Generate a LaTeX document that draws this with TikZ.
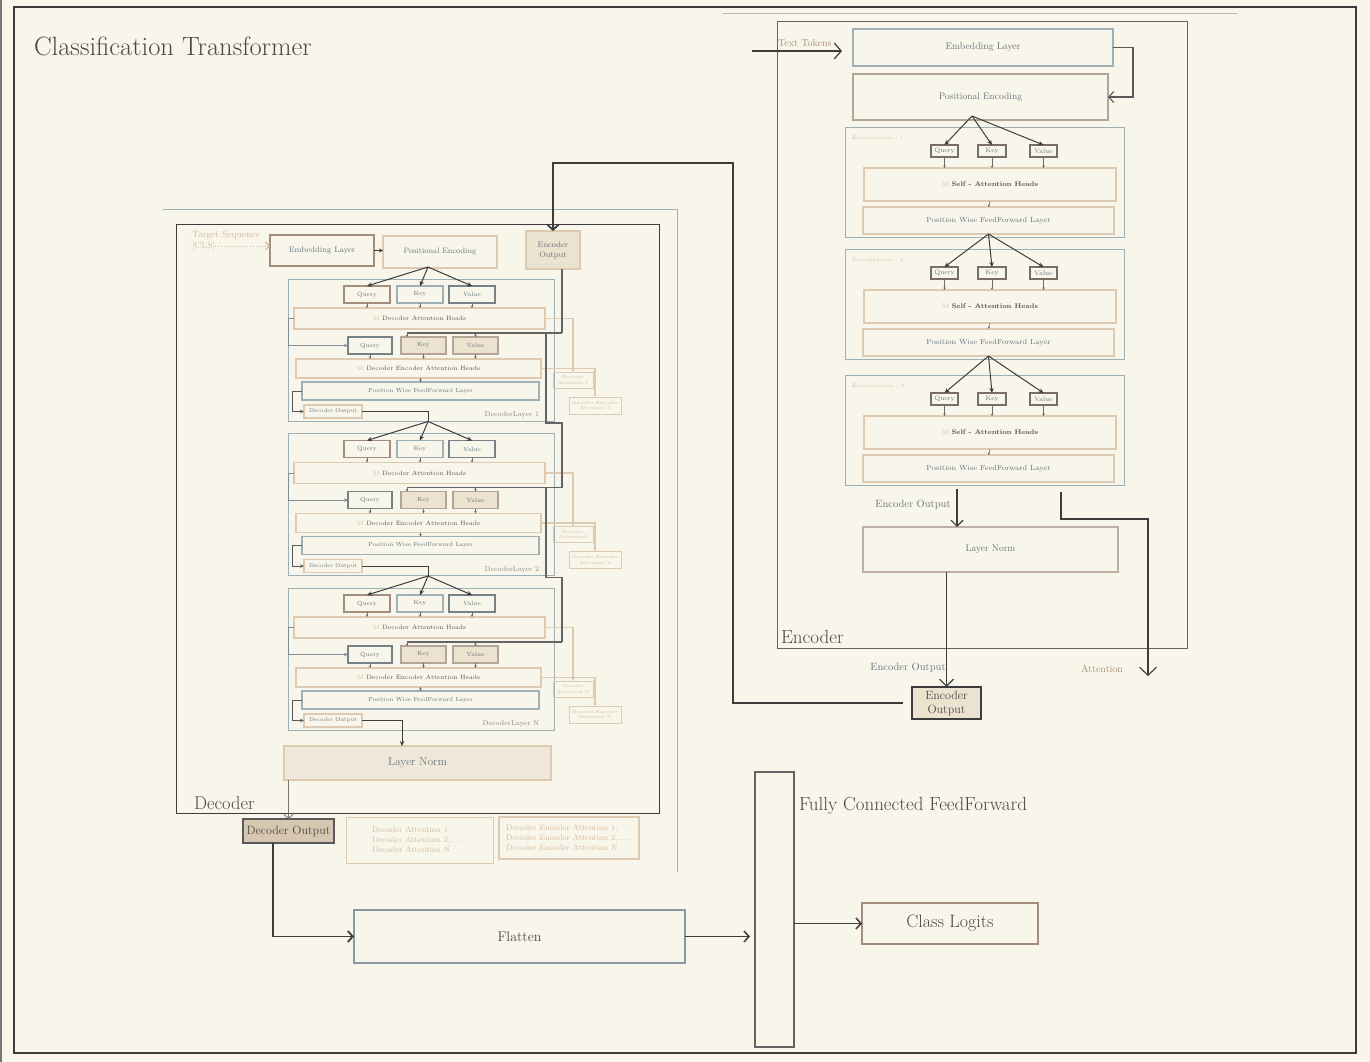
\documentclass[tikz,border=0pt]{standalone}
\usetikzlibrary{arrows.meta}
\definecolor{bg}{HTML}{F8F6EB}
\definecolor{dk}{HTML}{3C3C3C}
\definecolor{bl}{HTML}{9DB0B5}
\definecolor{tn}{HTML}{DDCAB0}
\definecolor{br}{HTML}{A38E7E}
\definecolor{tx}{HTML}{66747A}
\definecolor{tt}{HTML}{D5BB9E}
\definecolor{kf}{HTML}{ECE2D0}
\definecolor{dof}{HTML}{D7C7B1}
\definecolor{ttl}{HTML}{484848}
\definecolor{hdc}{HTML}{555555}
\definecolor{brt}{HTML}{A88C72}
\definecolor{lnf}{HTML}{EFE8DA}
\newcommand\fs[2]{\fontsize{#1}{#2}\selectfont}
\newcommand\mybox[7]{\node[#6, minimum width={#4-#2}, minimum height={#5-#3}] (#1) at ({(#2+#4)/2},{(#3+#5)/2}) {#7};}
\tikzset{
 frm/.style={draw=bl, line width=0.9pt},
 tb/.style={draw=tn, line width=1.3pt},
 bb/.style={draw=bl, line width=1.3pt},
 rb/.style={draw=br, line width=1.1pt},
 vb/.style={draw=bl!60!dk, line width=1.1pt},
 kfill/.style={fill=kf, draw=br!80, line width=1.1pt},
 qkv/.style={text=tx, font=\fs{6}{7}},
 hd/.style={text=hdc, font=\fs{6.2}{7}},
 pw/.style={text=tx, font=\fs{5.8}{7}},
 ann/.style={draw=tn, line width=1pt, text=tt, font=\fs{4.5}{5.5}},
 sa/.style={draw=dk!75, line width=0.6pt, -{Stealth[length=2.5pt,width=2.5pt]}},
 fa/.style={draw=dk, line width=1pt, -{Stealth[length=5pt,width=4.5pt]}},
 ch/.style={draw=dk!80, line width=1.2pt},
 td/.style={draw=tn, line width=1.1pt, -{Stealth[length=3pt,width=3pt]}},
 big/.style={draw=dk, line width=1.8pt},
 barb/.style={-{Straight Barb[length=5pt,width=11pt]}},
 eqk/.style={draw=br!60!dk, line width=1.1pt, text=tx, font=\fs{6.5}{7.5}},
}
\newcommand\declayer[5]{%
\begin{scope}[shift={(0,#2)}]
\mybox{dl#1}{288}{279}{554}{421}{frm}{}
\mybox{dq#1}{344}{286}{390}{303}{rb,qkv}{Query}
\mybox{dk#1}{397}{286}{443}{303}{bb,qkv}{Key}
\mybox{dv#1}{449}{286}{495}{303}{vb,qkv}{Value}
\mybox{dah#1}{294}{308}{545}{329}{tb,hd}{\textcolor{tt}{M} Decoder Attention Heads}
\mybox{dqq#1}{348}{337}{392}{354}{vb,qkv}{Query}
\mybox{dkk#1}{401}{337}{446}{354}{kfill,qkv}{Key}
\mybox{dvv#1}{453}{337}{498}{354}{kfill,qkv}{Value}
\mybox{deah#1}{296}{359}{541}{378}{tb,hd}{\textcolor{tt}{M} Decoder Encoder Attention Heads}
\mybox{dpw#1}{302}{382}{539}{400}{bb,pw}{Position Wise FeedForward Layer}
\mybox{ddo#1}{304}{405}{362}{418}{tb,text=tx,font=\fs{5.5}{6.5}}{Decoder Output}
\node[anchor=east, text=tx!70!tt, font=\fs{7}{8}] (dlab#1) at (539,415) {DecoderLayer #3};
\mybox{da#1}{553}{372}{593}{388}{ann}{Decoder\\#4}
\mybox{dea#1}{569}{397}{621}{414}{ann}{Decoder Encoder\\#5}
\coordinate (df#1) at (428,267);
\coordinate (ekin#1) at (562,333);
\coordinate (ekj#1) at (546,333);
\coordinate (ekl#1) at (407,333);
\coordinate (ekb#1) at (562,423);
\draw[fa] (df#1) -- (dq#1.north);
\draw[fa] (df#1) -- (dk#1.north);
\draw[fa] (df#1) -- (dv#1.north);
\draw[sa] (dq#1.south) -- (dq#1.south |- dah#1.north);
\draw[sa] (dk#1.south) -- (dk#1.south |- dah#1.north);
\draw[sa] (dv#1.south) -- (dv#1.south |- dah#1.north);
\draw[sa] (dqq#1.south) -- (dqq#1.south |- deah#1.north);
\draw[sa] (dkk#1.south) -- (dkk#1.south |- deah#1.north);
\draw[sa] (dvv#1.south) -- (dvv#1.south |- deah#1.north);
\draw[sa] (dpw#1.north |- deah#1.south) -- (dpw#1.north);
\draw[draw=bl!70!dk, line width=0.9pt, -{Stealth[length=4pt,width=3.5pt]}] (dah#1.west) -- ++(-6,0) |- (dqq#1.west);
\draw[draw=dk!85, line width=1pt, -{Stealth[length=4pt,width=3.5pt]}] (dpw#1.west) -- ++(-10,0) |- (ddo#1.west);
\draw[td] (dah#1.east) -| (da#1.north);
\draw[td] (deah#1.east) -| (dea#1.north);
\draw[ch] (ekin#1) -- (ekl#1);
\draw[sa, line width=0.9pt] (ekl#1) -- (ekl#1 |- dkk#1.north);
\draw[sa, line width=0.9pt] (dvv#1.north |- ekin#1) -- (dvv#1.north);
\end{scope}}
\newcommand\enclayer[3]{%
\begin{scope}[shift={(0,#2)}]
\mybox{el#1}{845}{127}{1124}{237}{frm}{}
\node[anchor=west, text=tt, font=\fs{5}{6}] (ellab#1) at (852,138) {EncoderLayer #3};
\mybox{eq#1}{931}{145}{958}{157}{eqk}{Query}
\mybox{ek#1}{978}{145}{1006}{157}{eqk}{Key}
\mybox{ev#1}{1030}{145}{1057}{157}{eqk}{Value}
\mybox{esa#1}{864}{168}{1116}{201}{tb,text=hdc,font=\fs{6.8}{8}}{\textcolor{tt}{M} \textbf{Self - Attention Heads}}
\mybox{epw#1}{863}{207}{1114}{234}{tb,text=tx,font=\fs{7.4}{8.5}}{Position Wise FeedForward Layer}
\draw[sa] (eq#1.south) -- (eq#1.south |- esa#1.north);
\draw[sa] (ek#1.south) -- (ek#1.south |- esa#1.north);
\draw[sa] (ev#1.south) -- (ev#1.south |- esa#1.north);
\draw[sa] (esa#1.south) -- (epw#1.north);
\end{scope}}
\begin{document}
\begin{tikzpicture}[x=1pt,y=-1pt, every node/.style={inner sep=0pt, outer sep=0pt, align=center}]
\fill[bg] (0,0) rectangle (1370,1062);
\useasboundingbox (0,0) rectangle (1370,1062);
\draw[dk!70, line width=1.5pt] (1,0) -- (1,1062);
\draw[dk, line width=1.2pt] (14,7) rectangle (1356,1053);
\node[anchor=west, text=ttl, font=\fs{26.5}{30}] (title) at (34,46) {Classification Transformer};

% ---------------- Decoder ----------------
\draw[bl, line width=0.8pt] (163,209) -- (677,209) -- (677,872);
\mybox{decbox}{176}{224}{659}{813}{draw=dk, line width=1pt}{}
\node[anchor=west, text=ttl, font=\fs{18.5}{21}] (declab) at (194,803) {Decoder};
\node[anchor=west, text=tt, font=\fs{9.2}{10}] (tgt) at (192,235) {Target Sequence};
\node[anchor=west, text=tt, font=\fs{9.2}{10}] (cls) at (192,246) {[CLS]};
\mybox{demb}{270}{235}{374}{266}{rb,text=tx,font=\fs{8.1}{10}}{Embedding Layer}
\mybox{dpe}{383}{236}{497}{268}{tb,text=tx,font=\fs{7.8}{10}}{Positional Encoding}
\mybox{denc}{526}{231}{580}{269}{fill=kf, draw=tn, line width=2.2pt, text=tx, font=\fs{8}{10}}{Encoder\\Output}
\draw[draw=tt, line width=0.9pt, dotted, -{Straight Barb[length=4pt,width=8pt]}] (cls.east) -- (cls.east -| demb.west);
\draw[draw=dk, line width=1pt, -{Stealth[length=4pt,width=4pt]}] (demb.east) -- (demb.east -| dpe.west);

\declayer{1}{0}{1}{Attention 1}{Attention 1}
\declayer{2}{154.5}{2}{Attention2}{Attention 2}
\declayer{3}{309}{N}{Attention N}{Attention N}

\draw[ch] (denc.south -| ekin1) -- (ekin1);
\draw[ch] (ekj1) |- (ekb1) -- (ekin2);
\draw[ch] (ekj2) |- (ekb2) -- (ekin3);
\draw[draw=dk, line width=1pt] (ddo1.east) -| (df2);
\draw[draw=dk, line width=1pt] (ddo2.east) -| (df3);

\mybox{dln}{284}{746}{551}{780}{fill=lnf, draw=tn, line width=2.2pt, text=tx, font=\fs{11.5}{13}}{Layer Norm}
\draw[fa] (ddo3.east) -| ([xshift=-15.5pt]dln.north);
\mybox{ddom}{243}{819}{334}{843}{fill=dof, draw=dk!85, line width=1.6pt, text=ttl, font=\fs{12}{14}}{Decoder Output}
\draw[draw=dk!70, line width=0.9pt, -{Straight Barb[length=4pt,width=9pt]}] (dln.south -| ddom.north) -- (ddom.north);
\mybox{dann1}{346}{817}{493}{863}{draw=tn, line width=1pt, text=tt, font=\fs{8}{10}, align=left}{Decoder Attention 1,\\Decoder Attention 2,.......\\Decoder Attention N}
\mybox{dann2}{499}{817}{639}{859}{draw=tn, line width=1.6pt, text=tt, font=\fs{8}{10}, align=left}{Decoder Encoder Attention 1,\\Decoder Encoder Attention 2,......\\Decoder Encoder Attention N}

% ---------------- Bottom ----------------
\mybox{flat}{354}{910}{685}{963}{draw=bl!80!dk, line width=1.2pt, text=ttl, font=\fs{14}{16}}{Flatten}
\draw[big, barb] ([xshift=-15.5pt]ddom.south) |- (flat.west);
\mybox{fc}{755}{772}{794}{1047}{draw=dk!80, line width=1.3pt}{}
\node[anchor=west, text=ttl, font=\fs{19}{22}] (fclab) at (799,806) {Fully Connected FeedForward};
\draw[draw=dk, line width=1.5pt, barb, shorten >=5pt] (flat.east) -- (flat.east -| fc.west);
\mybox{cl}{862}{903}{1038}{944}{draw=br, line width=1.6pt, text=ttl, font=\fs{18}{20}}{Class Logits}
\draw[draw=dk, line width=1.5pt, barb] (fc.east |- cl.west) -- (cl.west);

% ---------------- Encoder ----------------
\draw[draw=br!70, line width=0.8pt] (723,13) -- (1237,13);
\mybox{ebox}{777}{22}{1187}{648}{draw=dk!80, line width=1pt}{}
\node[anchor=west, text=ttl, font=\fs{19}{22}] (enclab) at (781,637) {Encoder};
\node[anchor=west, text=brt, font=\fs{10}{12}] (ttok) at (778,43) {Text Tokens};
\mybox{eemb}{853}{29}{1113}{66}{bb,text=tx,font=\fs{9.7}{12}}{Embedding Layer}
\mybox{epe}{853}{74}{1108}{120}{draw=br!80, line width=1.1pt, text=tx, font=\fs{9.5}{11}}{Positional Encoding}
\coordinate (ttin) at (752,51);
\draw[draw=dk, line width=1.2pt, -{Straight Barb[length=7pt,width=16pt]}, shorten >=11pt] (ttin) -- (ttin -| eemb.west);
\draw[draw=dk!85, line width=1.1pt, -{Straight Barb[length=5pt,width=11pt]}] (eemb.east) -- ++(20,0) |- (epe.east);

\enclayer{1}{0}{- 1}
\enclayer{2}{122}{- 2}
\enclayer{3}{248}{: N}

\coordinate (efork) at (972,116);
\draw[fa] (efork) -- (eq1.north);
\draw[fa] (efork) -- (ek1.north);
\draw[fa] (efork) -- (ev1.north);
\draw[fa] (epw1.south) -- (eq2.north);
\draw[fa] (epw1.south) -- (ek2.north);
\draw[fa] (epw1.south) -- (ev2.north);
\draw[fa] (epw2.south) -- (eq3.north);
\draw[fa] (epw2.south) -- (ek3.north);
\draw[fa] (epw2.south) -- (ev3.north);

\mybox{eln}{863}{527}{1118}{572}{draw=br!70, line width=1.1pt, text=tx, font=\fs{9.5}{11}}{Layer Norm}
\coordinate (eoa) at (957,489);
\draw[draw=dk, line width=1.1pt, -{Straight Barb[length=6pt,width=12pt]}] (eoa) -- (eoa |- eln.north);
\node[text=tx, font=\fs{10.5}{12}] (eolab1) at (913,505) {Encoder Output};
\coordinate (atst) at (1061,492);
\coordinate (atend) at (1148,676);
\draw[draw=dk, line width=1.1pt, -{Straight Barb[length=8pt,width=17pt]}] (atst) |- (atend |- 0,519) -- (atend);
\node[text=brt, font=\fs{10}{12}] (attlab) at (1102,669) {Attention};
\mybox{eout}{912}{687}{981}{719}{fill=kf, draw=dk, line width=2pt, text=ttl, font=\fs{12}{14}}{Encoder\\Output}
\draw[draw=dk, line width=1.1pt, -{Straight Barb[length=7pt,width=14pt]}] (eln.south -| eout.north) -- (eout.north);
\node[text=tx, font=\fs{10.5}{12}] (eolab2) at (908,668) {Encoder Output};
\draw[big, -{Straight Barb[length=5pt,width=11pt]}, shorten <=9pt] (eout.west) -| (733,163) -| (denc.north);
\end{tikzpicture}
\end{document}
